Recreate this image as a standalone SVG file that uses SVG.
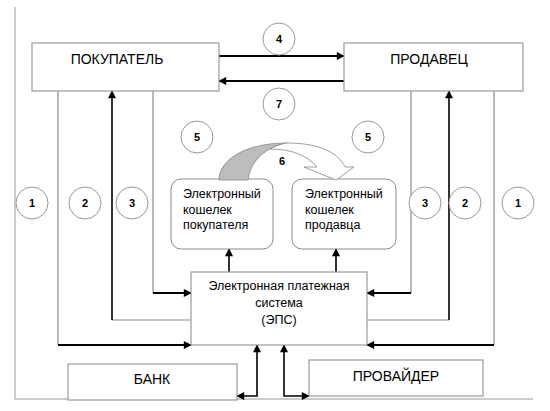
<svg xmlns="http://www.w3.org/2000/svg" width="550" height="411" viewBox="0 0 550 411">
<defs>
<marker id="ah" viewBox="0 0 10 10" refX="9" refY="5" markerWidth="9" markerHeight="8" markerUnits="userSpaceOnUse" orient="auto-start-reverse">
<path d="M0,0 L10,5 L0,10 Z" fill="#000"/>
</marker>
<style>
.box{fill:#fff;stroke:#9a9a9a;stroke-width:1.2}
.wal{fill:#fff;stroke:#8a8a8a;stroke-width:1}
.ttl{font-family:"Liberation Sans",Arial,sans-serif;font-size:14px;fill:#000;text-anchor:middle}
.txt{font-family:"Liberation Sans",Arial,sans-serif;font-size:12.5px;fill:#000}
.cir{fill:#fff;stroke:#999;stroke-width:1}
.num{font-family:"Liberation Sans",Arial,sans-serif;font-size:11px;font-weight:bold;fill:#000;text-anchor:middle}
.thin{fill:none;stroke:#8a8a8a;stroke-width:1.2}
.thick{fill:none;stroke:#000;stroke-width:2}
.frame{fill:none;stroke:#bbb;stroke-width:1.5}
</style>
</defs>
<rect width="550" height="411" fill="#fff"/>
<path class="frame" d="M15,7 V399 H533"/>

<g id="connectors">
<path class="thick" d="M219,56 H344" marker-end="url(#ah)"/>
<path class="thick" d="M344,81 H219" marker-end="url(#ah)"/>
<path class="thin" d="M58,91 V345"/>
<path class="thick" d="M58,345 H191" marker-end="url(#ah)"/>
<path class="thin" d="M191,320 H112"/>
<path class="thick" style="stroke-width:1.6" d="M112,320 V91" marker-end="url(#ah)"/>
<path class="thin" d="M153,91 V293"/>
<path class="thick" d="M153,293 H191" marker-end="url(#ah)"/>
<path class="thin" d="M411,91 V293"/>
<path class="thick" d="M411,293 H367" marker-end="url(#ah)"/>
<path class="thin" d="M367,320 H449"/>
<path class="thick" style="stroke-width:1.6" d="M449,320 V91" marker-end="url(#ah)"/>
<path class="thin" d="M494,91 V345"/>
<path class="thick" d="M494,345 H367" marker-end="url(#ah)"/>
<path class="thick" style="stroke-width:1.6" d="M229,272 V249" marker-end="url(#ah)"/>
<path class="thick" style="stroke-width:1.6" d="M336,272 V249" marker-end="url(#ah)"/>
<path class="thick" style="stroke-width:1.6" d="M257,345 V396 H237" marker-start="url(#ah)" marker-end="url(#ah)"/>
<path class="thick" style="stroke-width:1.6" d="M284,345 V396 H309" marker-start="url(#ah)" marker-end="url(#ah)"/>
</g>

<g id="buyer">
<rect class="box" x="32" y="43" width="187" height="48"/>
<text class="ttl" x="117" y="64">ПОКУПАТЕЛЬ</text>
</g>
<g id="seller">
<rect class="box" x="344" y="43" width="179" height="48"/>
<text class="ttl" x="429" y="64">ПРОДАВЕЦ</text>
</g>
<g id="wallet-buyer">
<rect class="wal" x="171" y="179" width="102" height="70" rx="10"/>
<text class="txt" x="183" y="198">Электронный</text>
<text class="txt" x="183" y="214">кошелек</text>
<text class="txt" x="183" y="229">покупателя</text>
</g>
<g id="wallet-seller">
<rect class="wal" x="292" y="179" width="104" height="70" rx="10"/>
<text class="txt" x="305" y="198">Электронный</text>
<text class="txt" x="305" y="214">кошелек</text>
<text class="txt" x="305" y="229">продавца</text>
</g>
<g id="eps">
<rect class="box" x="191" y="272" width="176" height="73"/>
<text class="txt" x="279" y="290" text-anchor="middle">Электронная платежная</text>
<text class="txt" x="279" y="307" text-anchor="middle">система</text>
<text class="txt" x="279" y="324" text-anchor="middle">(ЭПС)</text>
</g>
<g id="bank">
<rect class="box" x="68" y="364" width="169" height="36"/>
<text class="ttl" x="152" y="384">БАНК</text>
</g>
<g id="provider">
<rect class="box" x="309" y="360" width="174" height="36"/>
<text class="ttl" x="396" y="381">ПРОВАЙДЕР</text>
</g>

<g id="transfer-6">
<path d="M219,180 C219,160 245,143 287,143 C268,146 250,160 248,180 Z" fill="#bdbdbd" stroke="#888" stroke-width="0.8"/>
<path d="M287,143 C318,143 338,152 345,167 L354,167 L336,180 L304,167 L317,167 C308,156 292,149 270,149 C275,146 281,144 287,143 Z" fill="#fff" stroke="#888" stroke-width="0.8"/>
<text class="num" x="282" y="165">6</text>
</g>

<g id="labels">
<circle class="cir" cx="279" cy="39" r="16"/><text class="num" x="279" y="43">4</text>
<circle class="cir" cx="279" cy="104" r="16"/><text class="num" x="279" y="108">7</text>
<circle class="cir" cx="197" cy="137" r="16"/><text class="num" x="197" y="141">5</text>
<circle class="cir" cx="368" cy="137" r="16"/><text class="num" x="368" y="141">5</text>
<circle class="cir" cx="32" cy="203" r="16"/><text class="num" x="32" y="207">1</text>
<circle class="cir" cx="85" cy="203" r="16"/><text class="num" x="85" y="207">2</text>
<circle class="cir" cx="132" cy="203" r="16"/><text class="num" x="132" y="207">3</text>
<circle class="cir" cx="425" cy="203" r="16"/><text class="num" x="425" y="207">3</text>
<circle class="cir" cx="465" cy="203" r="16"/><text class="num" x="465" y="207">2</text>
<circle class="cir" cx="518" cy="203" r="16"/><text class="num" x="518" y="207">1</text>
</g>
</svg>
